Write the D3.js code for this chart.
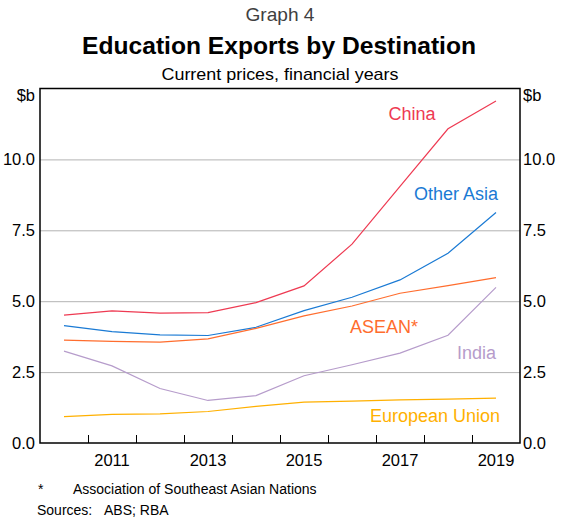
<!DOCTYPE html>
<html>
<head>
<meta charset="utf-8">
<script src="https://cdn.jsdelivr.net/npm/d3@7"></script>
<style>
  body { margin: 0; background: #fff; }
  svg { font-family: "Liberation Sans", Arial, sans-serif; }
  .tick text { font-size: 16.5px; fill: #000; }
</style>
</head>
<body>
<svg id="chart" width="571" height="526"></svg>
<script>
// financial years, plotted at mid-year
var years = [2010, 2011, 2012, 2013, 2014, 2015, 2016, 2017, 2018, 2019];
var china = [4.51, 4.66, 4.58, 4.60, 4.95, 5.54, 7.01, 9.05, 11.08, 12.06];
var otherAsia = [4.14, 3.93, 3.81, 3.79, 4.08, 4.67, 5.14, 5.75, 6.69, 8.13];
var asean = [3.63, 3.58, 3.56, 3.67, 4.04, 4.48, 4.83, 5.28, 5.55, 5.83];
var india = [3.24, 2.72, 1.92, 1.50, 1.67, 2.37, 2.76, 3.17, 3.80, 5.49];
var eu = [0.93, 1.01, 1.03, 1.11, 1.29, 1.44, 1.48, 1.52, 1.55, 1.58];

var yTicks = [0, 2.5, 5, 7.5, 10];
var xTicks = [2011, 2012, 2013, 2014, 2015, 2016, 2017, 2018, 2019];
var xLabels = [2011, 2013, 2015, 2017, 2019];

var series = [
    {name: "China", values: china, color: "#ee3a52", lx: 412, ly: 120, anchor: "middle"},
    {name: "Other Asia", values: otherAsia, color: "#1a7ad4", lx: 498, ly: 200, anchor: "end"},
    {name: "ASEAN*", values: asean, color: "#ff6d2e", lx: 384, ly: 333, anchor: "middle"},
    {name: "India", values: india, color: "#b69ccb", lx: 496, ly: 359, anchor: "end"},
    {name: "European Union", values: eu, color: "#ffb000", lx: 500, ly: 422, anchor: "end"}
];

function drawChart() {
    var svg = d3.select("#chart");
    var pLeft = 40, pRight = 520, pTop = 88.5, pBottom = 443;

    var x = d3.scaleLinear().domain([2010, 2020]).range([pLeft, pRight]);
    var y = d3.scaleLinear().domain([0, 12.5]).range([pBottom, pTop]);

    // titles
    svg.append("text").attr("x", 280).attr("y", 20.5).attr("text-anchor", "middle")
        .attr("textLength", 69).attr("lengthAdjust", "spacingAndGlyphs")
        .style("font-size", "18.5px").style("fill", "#404040").text("Graph 4");
    svg.append("text").attr("x", 279).attr("y", 54).attr("text-anchor", "middle")
        .attr("textLength", 394).attr("lengthAdjust", "spacingAndGlyphs")
        .style("font-size", "23px").style("font-weight", "bold").text("Education Exports by Destination");
    svg.append("text").attr("x", 280).attr("y", 79.5).attr("text-anchor", "middle")
        .attr("textLength", 237).attr("lengthAdjust", "spacingAndGlyphs")
        .style("font-size", "17px").text("Current prices, financial years");

    // gridlines
    svg.append("g")
        .attr("transform", "translate(" + pLeft + ",0)")
        .call(d3.axisRight(y).tickValues(yTicks.filter(function(d) { return d > 0; }))
            .tickSize(pRight - pLeft).tickFormat(""))
        .call(function(g) {
            g.select(".domain").remove();
            g.selectAll(".tick line").attr("stroke", "#b3b3b3");
        });

    // y axis labels, both sides
    svg.append("g")
        .attr("transform", "translate(" + pLeft + ",0)")
        .call(d3.axisLeft(y).tickValues(yTicks).tickSize(0).tickPadding(5).tickFormat(d3.format(".1f")))
        .call(function(g) { g.select(".domain").remove(); });
    svg.append("g")
        .attr("transform", "translate(" + pRight + ",0)")
        .call(d3.axisRight(y).tickValues(yTicks).tickSize(0).tickPadding(3).tickFormat(d3.format(".1f")))
        .call(function(g) { g.select(".domain").remove(); });

    svg.append("text").attr("x", 35).attr("y", 101).attr("text-anchor", "end")
        .style("font-size", "16.5px").text("$b");
    svg.append("text").attr("x", 523).attr("y", 101)
        .style("font-size", "16.5px").text("$b");

    // x ticks
    svg.append("g")
        .attr("transform", "translate(0," + pBottom + ")")
        .call(d3.axisBottom(x).tickValues(xTicks).tickSize(-8).tickFormat(""))
        .call(function(g) {
            g.select(".domain").remove();
            g.selectAll(".tick line").attr("stroke", "#000");
        });

    svg.selectAll(".xlab")
        .data(xLabels)
        .enter().append("text")
        .attr("class", "xlab")
        .attr("x", function(d) { return x(d + 0.5); })
        .attr("y", 466)
        .attr("text-anchor", "middle")
        .style("font-size", "16.5px")
        .text(function(d) { return d; });

    // lines
    var line = d3.line()
        .x(function(d, i) { return x(years[i] + 0.5); })
        .y(function(d) { return y(d); });

    svg.selectAll(".series")
        .data(series)
        .enter().append("path")
        .attr("class", "series")
        .attr("d", function(d) { return line(d.values); })
        .attr("fill", "none")
        .attr("stroke", function(d) { return d.color; })
        .attr("stroke-width", 1.2);

    svg.selectAll(".slab")
        .data(series)
        .enter().append("text")
        .attr("class", "slab")
        .attr("x", function(d) { return d.lx; })
        .attr("y", function(d) { return d.ly; })
        .attr("text-anchor", function(d) { return d.anchor; })
        .style("font-size", "18px")
        .style("fill", function(d) { return d.color; })
        .text(function(d) { return d.name; });

    // frame
    svg.append("rect")
        .attr("x", pLeft).attr("y", pTop)
        .attr("width", pRight - pLeft).attr("height", pBottom - pTop)
        .attr("fill", "none").attr("stroke", "#000").attr("stroke-width", 1.5);

    // notes
    svg.append("text").attr("x", 38).attr("y", 494).style("font-size", "14px").text("*");
    svg.append("text").attr("x", 73).attr("y", 494).style("font-size", "14px").text("Association of Southeast Asian Nations");
    svg.append("text").attr("x", 37).attr("y", 514.5).style("font-size", "14px").text("Sources:");
    svg.append("text").attr("x", 104).attr("y", 514.5).style("font-size", "14px").text("ABS; RBA");
}

drawChart();
</script>
</body>
</html>
